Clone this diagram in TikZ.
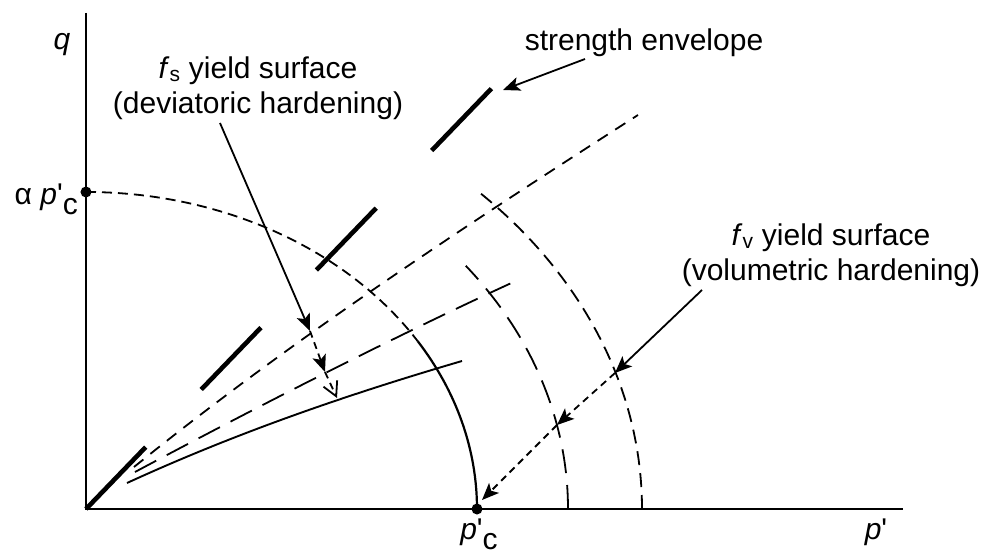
\documentclass[tikz,border=0pt]{standalone}
\usepackage{fontspec}
\setmainfont{Liberation Sans}
\usetikzlibrary{arrows.meta, calc}

\newcommand{\qmark}{\textquotesingle}
\newcommand{\lowc}{\raisebox{-0.36em}{c}}

\begin{document}
\begin{tikzpicture}[
    x=1pt, y=1pt,
    font=\fontsize{30}{35}\selectfont,
    axisline/.style={draw, line width=2pt},
    envelope/.style={draw, line width=4.6pt, dash pattern=on 86pt off 80pt},
    capdashed/.style={draw, line width=1.8pt, dash pattern=on 10pt off 6pt},
    capsolid/.style={draw, line width=2.2pt},
    fsshort/.style={draw, line width=1.8pt, dash pattern=on 12pt off 9pt},
    fslong/.style={draw, line width=1.8pt, dash pattern=on 24pt off 12pt},
    fsline/.style={draw, line width=1.9pt},
    fvlong/.style={draw, line width=1.8pt, dash pattern=on 24pt off 12pt},
    fvmid/.style={draw, line width=1.8pt, dash pattern=on 14pt off 8pt},
    textlabel/.style={align=center, inner sep=0pt},
    dot/.style={circle, fill, inner sep=0pt, minimum size=11pt},
    pointer/.style={draw, line width=1.8pt, -{Stealth[length=17pt, width=14pt, inset=4pt]}},
    dashedpointer/.style={pointer, dash pattern=on 7pt off 5pt},
    openpointer/.style={draw, line width=1.8pt, dash pattern=on 7pt off 5pt,
        -{Straight Barb[length=14pt, width=15pt]}}
]

\useasboundingbox (-86,-49) rectangle (900,509);

% ==========================================
% AXES
% ==========================================

\coordinate (O) at (0,0);
\coordinate (qtop) at (0,496);
\coordinate (pend) at (817,0);
\draw[axisline] (qtop) -- (O) -- (pend);

\node[textlabel, anchor=base] (qlab) at (-24,459) {\textit{q}};
\node[textlabel, anchor=base] (plab) at (790,-30) {\textit{p}\qmark};

\node[dot] (acdot) at (0,317) {};
\node[dot] (pcdot) at (391,0) {};
\node[textlabel, anchor=base east] (aclab) at (-8,305) {α\;\textit{p}\qmark\lowc};
\node[textlabel, anchor=base] (pclab) at (393,-30) {\textit{p}\qmark\lowc};

% ==========================================
% CAP AND VOLUMETRIC YIELD SURFACES
% ==========================================

\draw[capdashed] (acdot.center) arc[start angle=90, end angle=32, x radius=391, y radius=317]
    coordinate (capsplit);
\draw[capsolid] (capsplit) arc[start angle=32, end angle=0, x radius=391, y radius=317];

% drawn from the p' axis upwards
\draw[fvlong] (482,0) arc[start angle=0, end angle=38, x radius=482, y radius=395];
\draw[fvmid] (556,0) arc[start angle=0, end angle=45, x radius=556, y radius=448];

% ==========================================
% STRENGTH ENVELOPE AND SHEAR YIELD SURFACES
% ==========================================

\draw[envelope] (O) -- (406,421);

\draw[fsshort] (48,42) .. controls (210,173) and (390,290) .. (552,394);
\draw[fslong] (49,37) .. controls (180,107) and (320,178) .. (432,229);
\draw[fsline] (41,26) .. controls (150,76) and (260,114) .. (376,148);

% ==========================================
% LABELS AND POINTERS
% ==========================================

\node[textlabel] (selab) at (558,466) {strength envelope};
\coordinate (seTail) at (499,450);
\coordinate (seTip) at (417,419);
\draw[pointer] (seTail) -- (seTip);

\node[textlabel] (fslab) at (172,421) {\textit{f}\textsubscript{s} yield surface \\ (deviatoric hardening)};
\coordinate (fsTail) at (134,386);
\coordinate (fsTip1) at (224,178);
\coordinate (fsTip2) at (239,137);
\coordinate (fsTip3) at (251,111);
\draw[pointer] (fsTail) -- (fsTip1);
\draw[dashedpointer] (fsTip1) -- (fsTip2);
\draw[openpointer] (fsTip2) -- (fsTip3);

\node[textlabel] (fvlab) at (745,254) {\textit{f}\textsubscript{v} yield surface \\ (volumetric hardening)};
\coordinate (fvTail) at (616,219);
\coordinate (fvTip1) at (529,136);
\coordinate (fvTip2) at (471,84);
\coordinate (fvTip3) at (396,9);
\draw[pointer] (fvTail) -- (fvTip1);
\draw[dashedpointer] (fvTip1) -- (fvTip2);
\draw[dashedpointer] (fvTip2) -- (fvTip3);

\end{tikzpicture}
\end{document}
